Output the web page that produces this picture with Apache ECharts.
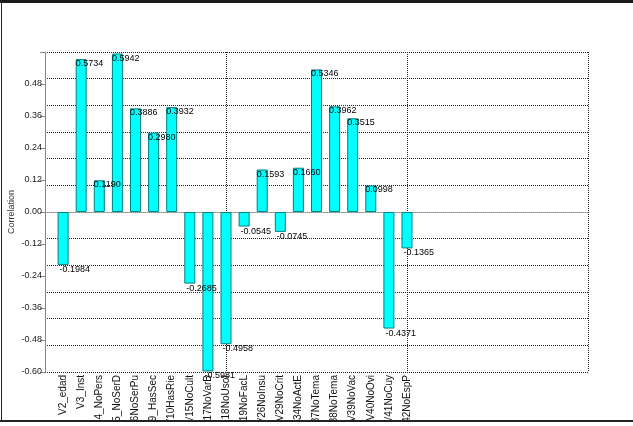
<!DOCTYPE html>
<html>
<head>
<meta charset="utf-8">
<script src="https://cdn.jsdelivr.net/npm/echarts@6/dist/echarts.min.js"></script>
<style>
html,body{margin:0;padding:0;background:#fff;}
#chart{width:633px;height:426px;}
</style>
</head>
<body>
<div id="chart"></div>
<script>
const categories = ['V2_edad','V3_Inst','V4_NoPers','V5_NoSerD','V6NoSerPu','V9_HasSec','V10HasRie','V15NoCult','V17NoVarB','V18NoUsoI','V19NoFacL','V26NoInsu','V29NoCrit','V34NoActE','V37NoTema','V38NoTema','V39NoVac','V40NoOvi','V41NoCuy','V42NoEspP'];
const correlations = [-0.1984,0.5734,0.1190,0.5942,0.3886,0.2980,0.3932,-0.2685,-0.5981,-0.4958,-0.0545,0.1593,-0.0745,0.1660,0.5346,0.3962,0.3515,0.0998,-0.4371,-0.1365];
const yTickLabels = ['-0.60','-0.48','-0.36','-0.24','-0.12','0.00','0.12','0.24','0.36','0.48'];
const emptySlotsAfter = 10;

const xData = [''].concat(categories, new Array(emptySlotsAfter).fill(''));
const barData = ['-'].concat(correlations.map(v => ({
  value: v,
  label: { position: v >= 0 ? [0, 0] : [2, '100%'] }
})), new Array(emptySlotsAfter).fill('-'));

const chart = echarts.init(document.getElementById('chart'), null, {renderer: 'canvas'});
const font = 'Liberation Sans, Arial, sans-serif';
chart.setOption({
  animation: false,
  grid: { left: 45, right: 45, top: 52, bottom: 54, containLabel: false, outerBoundsMode: 'none' },
  xAxis: {
    type: 'category',
    data: xData,
    boundaryGap: false,
    axisLine: { show: true, lineStyle: { color: '#888', type: 'dotted', width: 1 } },
    axisTick: { show: false },
    axisLabel: { interval: 0, rotate: 90, fontSize: 10, color: '#111', fontFamily: font, margin: 3 },
    splitLine: {
      show: true,
      interval: function (idx) { return idx > 0 && idx % 10 === 0; },
      lineStyle: { color: '#222', type: 'dotted', width: 1 }
    }
  },
  yAxis: [{
    type: 'value',
    min: -0.6, max: 0.6, interval: 0.12,
    name: 'Correlation', nameLocation: 'middle', nameRotate: 90, nameGap: 29,
    nameMoveOverlap: false,
    nameTextStyle: { fontSize: 9, color: '#333', fontFamily: font },
    axisLine: { show: true, lineStyle: { color: '#888', width: 1 } },
    axisTick: { show: true, length: 5, inside: false, lineStyle: { color: '#888' } },
    axisLabel: {
      fontSize: 9, color: '#222', fontFamily: font, margin: 3,
      formatter: function (v) {
        const s = v.toFixed(2);
        const t = s === '-0.00' ? '0.00' : s;
        return yTickLabels.indexOf(t) >= 0 ? t : '';
      }
    },
    splitLine: { show: false }
  }, {
    type: 'value',
    min: -0.6, max: 0.6, interval: 0.1,
    position: 'left',
    axisLine: { show: false }, axisTick: { show: false }, axisLabel: { show: false },
    splitLine: { show: true, lineStyle: { color: '#222', type: 'dotted', width: 1 } }
  }],
  series: [{
    type: 'bar',
    yAxisIndex: 0,
    data: barData,
    barWidth: 11,
    itemStyle: { color: '#00FFFF', borderColor: '#00807F', borderWidth: 1 },
    label: {
      show: true,
      align: 'left', verticalAlign: 'top',
      fontSize: 9, color: '#000', fontFamily: font,
      formatter: function (p) { return p.value.toFixed(4); }
    }
  }],
  graphic: [
    { type: 'rect', z: 100, silent: true, shape: { x: 0, y: 421, width: 633, height: 5 }, style: { fill: '#fff' } },
    { type: 'rect', z: 101, silent: true, shape: { x: 0, y: 420, width: 633, height: 2 }, style: { fill: '#222' } },
    { type: 'rect', z: 101, silent: true, shape: { x: 1, y: 0, width: 1, height: 422 }, style: { fill: '#222' } },
    { type: 'rect', z: 101, silent: true, shape: { x: 0, y: 0, width: 633, height: 3 }, style: { fill: '#1a1a1a' } }
  ]
});
</script>
</body>
</html>
